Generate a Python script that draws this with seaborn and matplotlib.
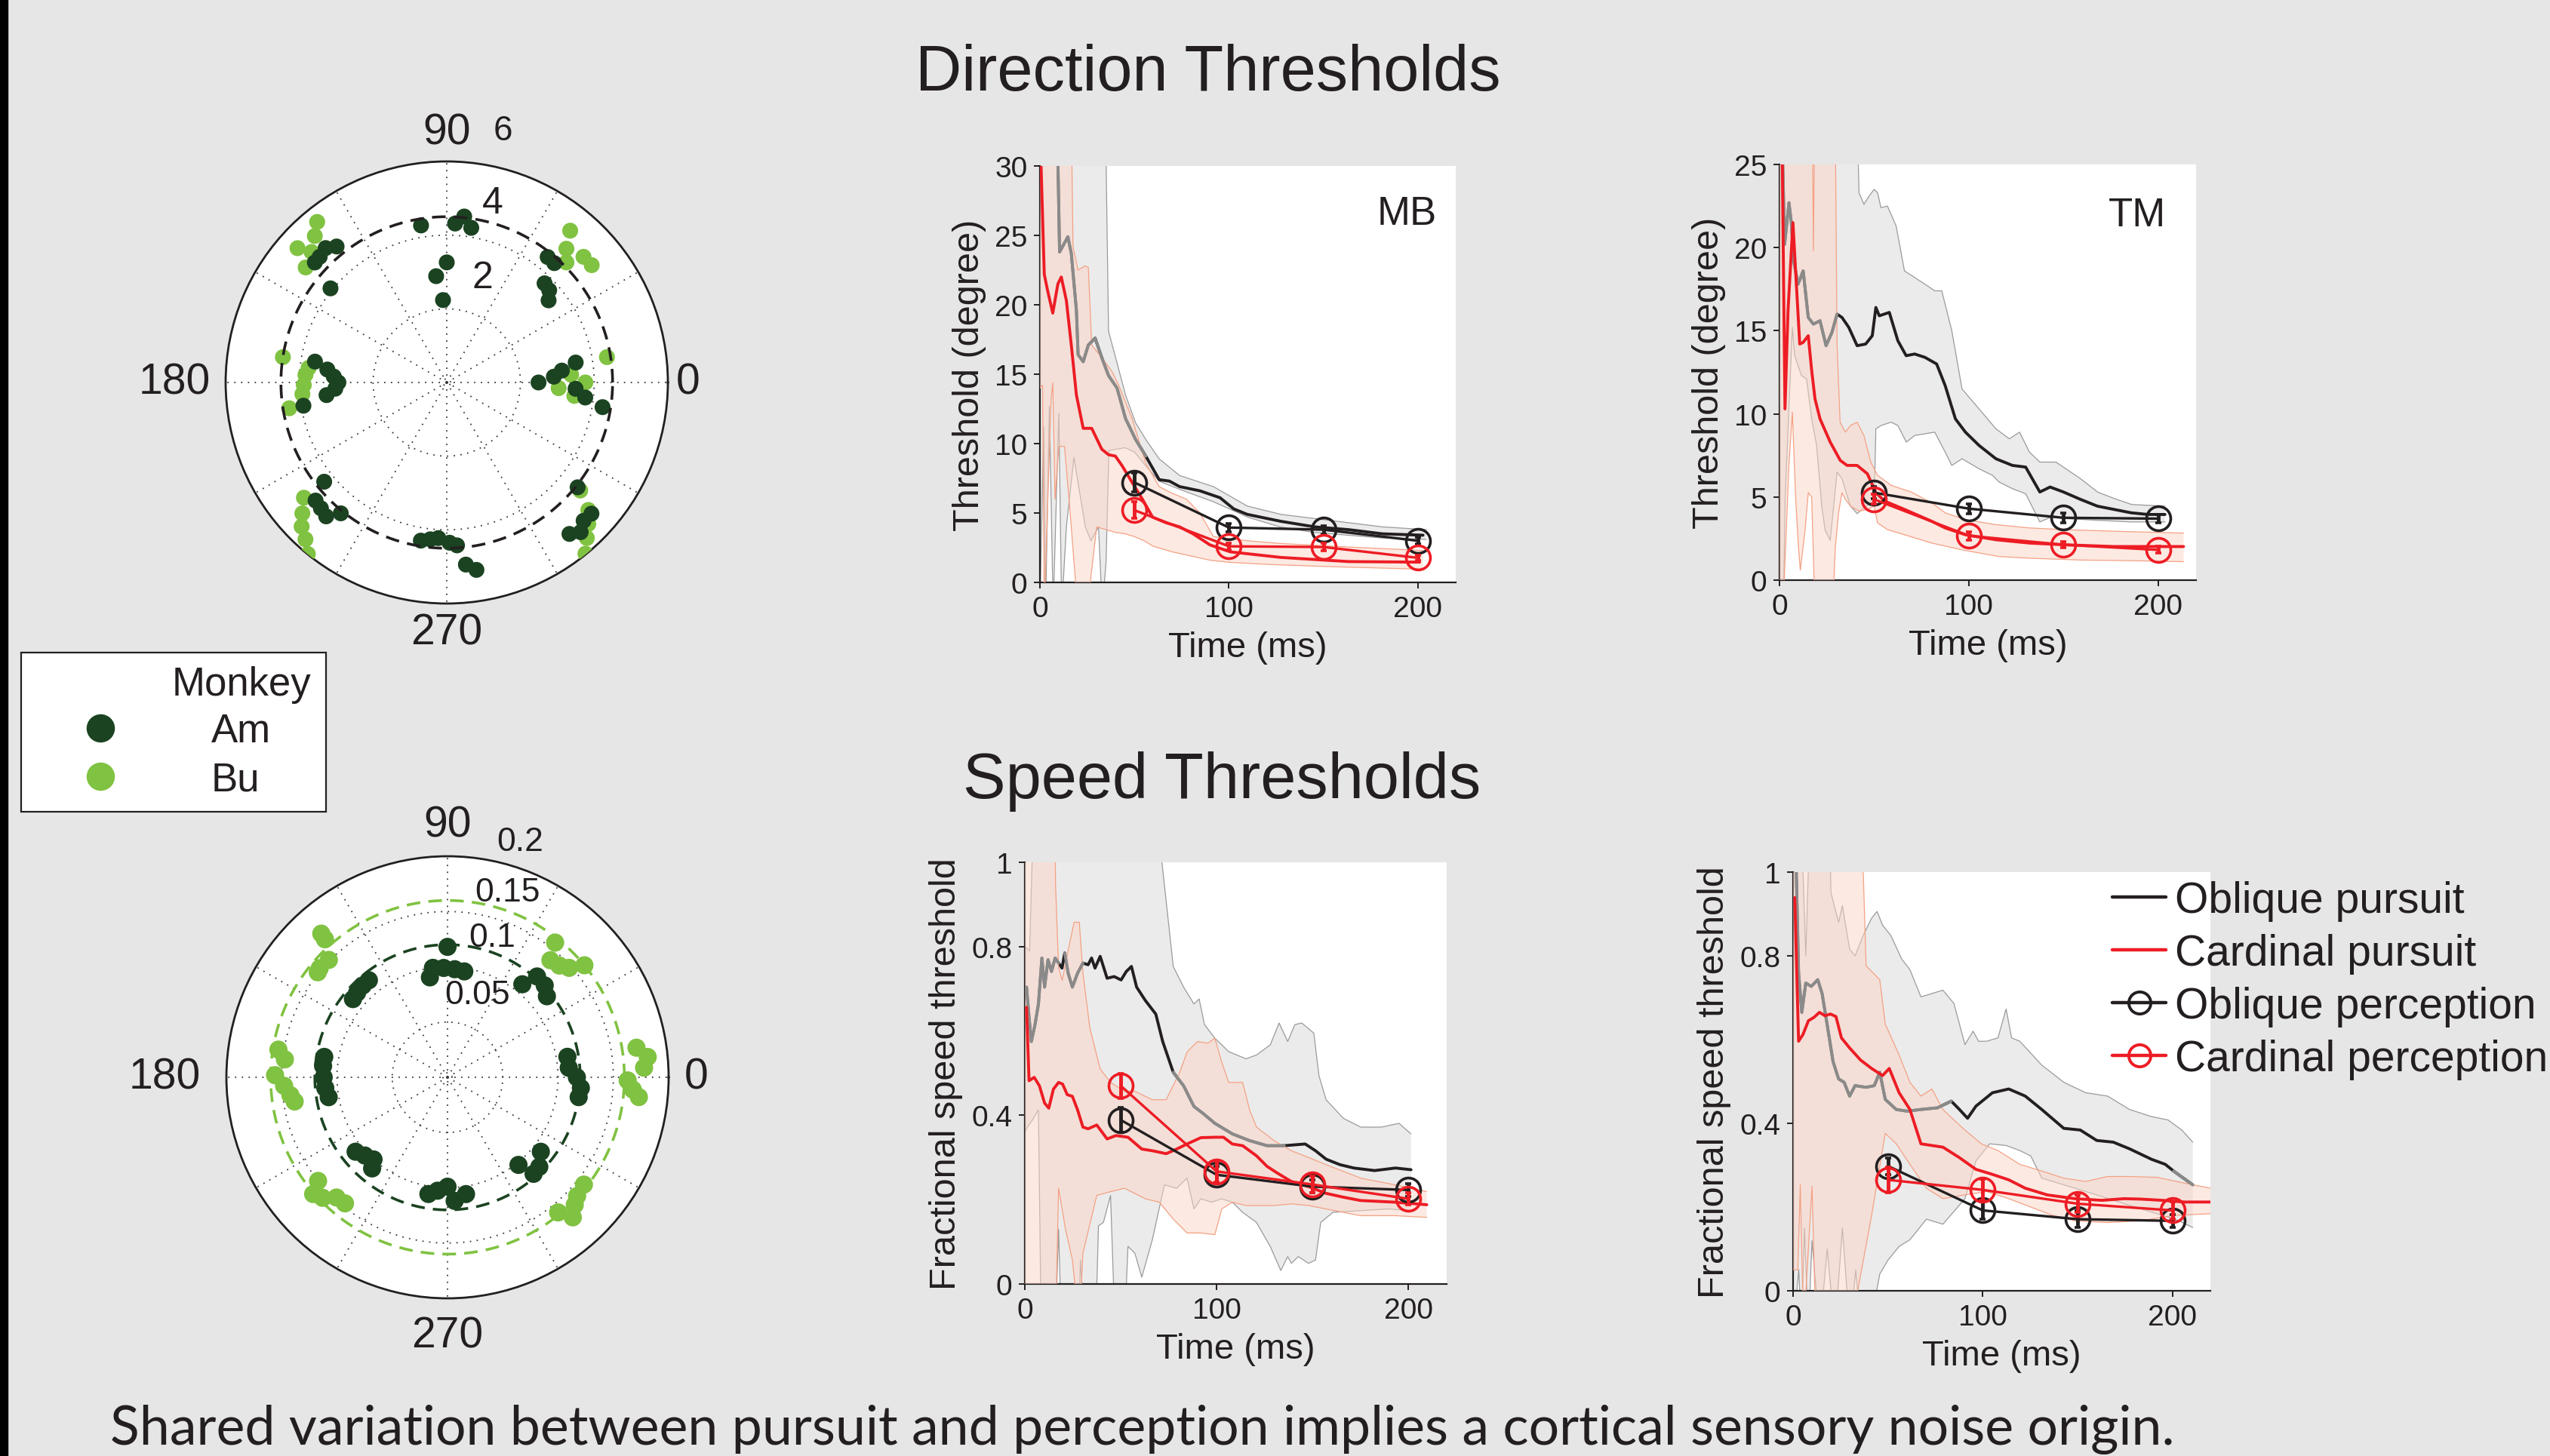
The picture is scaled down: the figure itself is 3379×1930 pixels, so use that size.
import numpy as np
import matplotlib
matplotlib.use("Agg")
import matplotlib.pyplot as plt
import seaborn as sns
from matplotlib import font_manager
from matplotlib.lines import Line2D
from matplotlib.patches import Rectangle

# ---------------- data ----------------
# polar plots: direction thresholds (deg), per monkey
am_dir_theta = [99.3, 84, 87, 81, 90, 95.7, 92.6, 129, 132, 135.3, 137.7, 141, 51.2, 48, 45.4, 42, 38.9,
                171, 173.8, 177, 180, 183.2, 186, 189.2, 0, 3.1, 5.9, 8.8, -2.8, -6.2, -9,
                219, 222, 225, 228, 231, 260.7, 264, 266.9, 271, 273.6, 276, 279,
                321.3, 317.8, 314.7, 311.8, 309]
am_dir_r = [4.32, 4.53, 4.32, 4.25, 3.26, 2.9, 2.24, 4.75, 4.91, 4.85, 4.84, 4.06, 4.37, 4.36, 3.78, 3.74, 3.55,
            3.62, 3.26, 3.07, 2.94, 3.03, 3.28, 3.94, 2.49, 2.91, 3.14, 3.54, 3.5, 3.78, 4.28,
            4.28, 4.79, 4.83, 4.89, 4.57, 4.35, 4.28, 4.23, 4.35, 4.43, 4.97, 5.15,
            4.55, 5.3, 5.28, 5.45, 5.29]
bu_dir_theta = [128.9, 132, 138, 140.8, 136, 50.9, 48.2, 45.1, 42.6, 39, 171.2, 176.9, 181, 184.6, 189.3, 174,
                9, -2.9, 0, -6, 3.6, 218.9, 222.2, 224.8, 228, 231, 321, 318, 315, 312, 309]
bu_dir_r = [5.6, 5.35, 5.45, 4.94, 5.1, 5.31, 4.87, 4.6, 5.04, 5.06, 4.5, 3.84, 3.88, 3.93, 4.33, 3.77,
            4.4, 3.04, 3.76, 3.48, 3.38, 4.98, 5.29, 5.55, 5.73, 5.99, 4.66, 5.17, 5.43, 5.68, 5.98]
dir_mean = 4.5

# polar plots: fractional speed thresholds
am_spd_theta = [90, 97.6, 100, 92, 86.2, 81, 51.2, 48.4, 43.4, 39.2, 129, 132.7, 136.9, 140.4,
                170.6, 174.8, 180, 185, 189.5, 9.7, 4.5, 0, -4.6, -8.6, 219, 223.4, 228, 230.4,
                260.7, 265, 270, 273.3, 279, 309, 311.7, 321.4, 315.7]
am_spd_r = [0.118, 0.0999, 0.0918, 0.099, 0.098, 0.097, 0.108, 0.122, 0.121, 0.116, 0.113, 0.113, 0.112, 0.111,
            0.113, 0.113, 0.112, 0.111, 0.109, 0.110, 0.110, 0.117, 0.121, 0.120, 0.107, 0.103, 0.100, 0.107,
            0.107, 0.103, 0.099, 0.112, 0.107, 0.102, 0.117, 0.108, 0.116]
bu_spd_theta = [51.4, 48.7, 45, 42, 39.3, 131.3, 131.6, 135.3, 139.5, 141, 170.7, 173.7, 179.3, 183, 186.5, 189,
                8.9, 5.8, 2.8, -1, -3.8, -5.9, 218.7, 221, 224, 227.3, 230.9, 321.8, 317.5, 314.9, 311.8, 309.3]
bu_spd_r = [0.156, 0.141, 0.143, 0.148, 0.160, 0.173, 0.167, 0.151, 0.152, 0.151, 0.155, 0.148, 0.156, 0.148, 0.143, 0.140,
            0.173, 0.182, 0.178, 0.163, 0.168, 0.174, 0.150, 0.161, 0.157, 0.148, 0.147, 0.157, 0.159, 0.163, 0.170, 0.158]
am_spd_mean = 0.12
bu_spd_mean = 0.16

perc_t = [50, 100, 150, 200]

# ---- MB direction ----
mb_obl_t = [0, 2, 5, 8, 9.5, 10.4, 14.8, 16.6, 19.3, 20.2, 22.9, 25.6, 29.2, 32.7, 36.3, 40.8, 45.3, 50.6, 56, 63.1,
            68.5, 73.9, 84.6, 95.3, 102.5, 109.7, 127.5, 145.4, 163.3, 181.2, 202.7]
mb_obl_v = [40, 38, 33, 31, 30.5, 23.8, 24.9, 23.7, 19.6, 16.4, 15.9, 17.1, 17.6, 16.2, 14.9, 14.0, 11.8, 10.3, 9.1, 7.4,
            7.3, 6.9, 6.6, 6.1, 5.3, 4.9, 4.4, 4.0, 3.8, 3.5, 3.4]
mb_car_t = [0.5, 2.3, 4.1, 6.8, 9.5, 11.3, 14, 16.6, 19.3, 21.1, 22.9, 27.4, 32.7, 36.3, 39.9, 43.5, 48.8, 54.2, 59.6,
            66.7, 73.9, 81, 90, 100.7, 127.5, 145.4, 163.3, 200.9]
mb_car_v = [30.5, 22.2, 21.0, 19.4, 21.5, 22.0, 20.3, 17.1, 13.5, 12.3, 11.1, 11.1, 9.6, 9.2, 9.1, 8.4, 7.2, 6.0, 4.7,
            4.3, 4.0, 3.5, 2.7, 2.2, 1.8, 1.65, 1.5, 1.46]
mb_obl_hi_t = [0, 34, 36.3, 45.3, 50.6, 56, 63.1, 73.9, 91.8, 109.7, 127.5, 145.4, 163.3, 181.2, 204.5]
mb_obl_hi_v = [40, 40, 18.1, 13.5, 11.5, 10.3, 8.9, 7.7, 6.9, 5.5, 4.9, 4.6, 4.3, 4.0, 3.8]
mb_obl_lo_t = [0, 2, 3, 5, 7, 10, 11.5, 14, 18, 24, 27, 31, 33, 35, 36.5, 45, 50, 56, 63, 74, 92, 110, 127, 145, 163,
               181, 204.5]
mb_obl_lo_v = [-2, 11.2, -2, 12.7, -2, 12.2, -2, 4, 9, 4, 3, 4, -2, 1.5, 9.5, 9.7, 9.4, 8.4, 7.3, 6.7, 5.8, 4.7, 4.0,
               3.6, 3.4, 3.2, 3.1]
mb_car_hi_t = [0, 16, 17.5, 20.2, 23.8, 25.6, 27.4, 32.7, 38.1, 41.7, 48.8, 56, 63.1, 70.3, 77.5, 84.6, 91.8, 109.7,
               127.5, 163.3, 202.7]
mb_car_hi_v = [40, 40, 24.2, 22.5, 22.8, 22.7, 17.1, 16.2, 15.2, 14.2, 11.8, 8.6, 6.9, 6.4, 6.0, 5.0, 3.3, 3.0, 2.8,
               2.55, 2.3]
mb_car_lo_t = [0, 1.4, 2.3, 5.9, 6.8, 8, 10, 13, 16, 20, 25, 30, 35, 40, 45, 50, 55, 60, 70, 80, 90, 100, 120, 150,
               202.7]
mb_car_lo_v = [14, 14.2, -2, 13.1, 14.4, 6, 9.8, 9.8, 5, -2, -2, 4, 3.8, 3.6, 3.5, 3.3, 3.0, 2.6, 2.2, 1.9, 1.6, 1.45,
               1.3, 1.15, 0.95]
mb_obl_perc = [7.2, 3.95, 3.8, 3.0]
mb_obl_err = [0.7, 0.3, 0.3, 0.25]
mb_car_perc = [5.2, 2.6, 2.55, 1.77]
mb_car_err = [0.6, 0.25, 0.25, 0.2]

# ---- TM direction ----
tm_obl_t = [0, 1.5, 2.7, 5, 6.25, 7.5, 9.8, 12.5, 15.2, 17.9, 21.4, 24.6, 27.7, 30.4, 33, 36.6, 41, 45.5, 49, 50.9,
            52.7, 58, 62.5, 66.9, 71.4, 76.8, 83, 87.5, 92.9, 98.2, 105.4, 114.3, 123, 130, 137.5, 142.9, 150, 158.9,
            167.9, 176.8, 185.7, 194.6, 203.6]
tm_obl_v = [40, 26, 20.2, 22.7, 21.5, 19.2, 17.8, 18.6, 15.8, 15.4, 15.6, 14.1, 14.9, 16.0, 15.8, 15.2, 14.1, 14.2,
            14.7, 16.4, 15.9, 16.1, 14.4, 13.5, 13.6, 13.4, 13.0, 11.7, 9.7, 8.9, 8.1, 7.3, 6.9, 6.8, 5.3, 5.6, 5.3,
            4.86, 4.45, 4.25, 4.05, 3.95, 3.95]
tm_car_t = [0, 1.4, 2.9, 4.5, 7.1, 8.9, 10.7, 12.5, 15.2, 17, 18.75, 21.4, 26.8, 32.1, 35.7, 41, 46.4, 50.9, 55.4, 66.1,
            80.4, 87.5, 98.2, 114.3, 132, 150, 176.8, 213.4]
tm_car_v = [30, 26, 10.3, 16.2, 21.5, 17.8, 14.2, 14.3, 14.7, 12.6, 10.9, 9.7, 8.3, 7.2, 6.9, 6.9, 6.4, 5.26, 4.76,
            4.25, 3.54, 3.14, 2.73, 2.43, 2.23, 2.13, 2.02, 2.02]
tm_obl_hi_t = [0, 38.4, 42, 44.6, 47.3, 50, 51.8, 53.6, 57, 61.6, 66, 71.4, 76.8, 82, 85.7, 91, 96.4, 105.4, 114.3,
               121.4, 126.8, 132, 137.5, 146, 159, 168, 177, 186, 194.6, 203.6]
tm_obl_hi_v = [40, 40, 23.3, 22.6, 23.1, 23.5, 23.3, 22.4, 22.5, 21.3, 18.6, 18.2, 17.8, 17.4, 17.4, 15.0, 11.5, 10.3,
               9.1, 8.5, 8.9, 7.7, 7.1, 7.1, 6.1, 5.3, 4.9, 4.55, 4.5, 4.45]
tm_obl_lo_t = [0, 2, 3, 6.8, 8, 11.6, 14.3, 17, 19.6, 22.3, 24.1, 26.8, 30.4, 33, 35.7, 37.5, 41, 44.6, 48.2, 50, 50.9,
               53.6, 59, 62.5, 67, 71.4, 76.8, 82, 87.5, 91, 96.4, 105.4, 112.5, 116, 123, 130, 137.5, 144.6, 151.8,
               168, 185.7, 203.6]
tm_obl_lo_v = [-2, -2, 5, 15.2, 13.5, 12.3, 12.1, 9.7, 8.1, 4.45, 3.0, 2.4, 6.5, 6.1, 5.1, 4.45, 4.0, 4.35, 4.65,
               4.86, 9.1, 9.3, 9.5, 9.3, 8.3, 8.7, 8.8, 8.9, 7.7, 6.9, 7.3, 6.7, 6.3, 5.9, 5.5, 5.2, 3.5, 3.85, 3.7,
               3.6, 3.5, 3.5]
tm_car_hi_t = [0, 16.5, 17.9, 19.6, 28.6, 30.4, 32, 34.8, 37.5, 41, 44.6, 48.2, 51.8, 59, 69.6, 80.4, 87.5, 98.2,
               114.3, 132, 150, 176.8, 213.4]
tm_car_hi_v = [40, 40, 19.8, 40, 40, 14.2, 9.5, 8.9, 9.3, 9.5, 8.7, 7.1, 6.3, 5.7, 5.3, 4.65, 4.05, 3.64, 3.34, 3.14,
               3.04, 2.94, 2.83]
tm_car_lo_t = [0, 1.8, 3.6, 5, 6.8, 8.5, 10, 11, 13.5, 15.2, 17, 18.8, 28, 29.5, 31.2, 33, 34.8, 37.5, 42, 46.4, 50,
               51.8, 57, 66, 80.4, 96.4, 116, 132, 159, 185.7, 213.4]
tm_car_lo_v = [-2, -2, 3, 7, 10.1, 5, 2, 0.6, 3, 5.26, 5.0, -2, -2, 2, 4.05, 5.26, 4.86, 4.45, 4.15, 4.25, 4.45, 3.44,
               3.04, 2.73, 2.23, 1.82, 1.42, 1.32, 1.21, 1.17, 1.11]
tm_obl_perc = [5.26, 4.3, 3.75, 3.7]
tm_obl_err = [0.35, 0.3, 0.3, 0.25]
tm_car_perc = [4.86, 2.67, 2.13, 1.82]
tm_car_err = [0.3, 0.25, 0.2, 0.2]

# ---- speed, left monkey ----
sl_obl_t = [0.9, 2.2, 3.4, 5.3, 7.1, 8.9, 10.3, 12.1, 13.9, 15.8, 17.6, 19.4, 20.8, 22.6, 24.8, 27.5, 30.3, 33, 34.8,
            36.6, 39.3, 42.9, 46.6, 50.2, 52.9, 55.6, 58.3, 62.9, 68.3, 71.9, 77.4, 82.8, 88.2, 92.8, 99.1, 108.2,
            117.2, 126.3, 135.3, 146.2, 151.6, 157.1, 164.3, 171.6, 182.4, 193.3, 201.4]
sl_obl_v = [0.704, 0.632, 0.575, 0.615, 0.664, 0.773, 0.704, 0.769, 0.741, 0.773, 0.761, 0.749, 0.785, 0.737, 0.704,
            0.737, 0.761, 0.757, 0.773, 0.749, 0.777, 0.725, 0.729, 0.721, 0.741, 0.753, 0.704, 0.672, 0.640, 0.575,
            0.502, 0.470, 0.421, 0.405, 0.381, 0.356, 0.340, 0.328, 0.328, 0.332, 0.316, 0.296, 0.283, 0.275, 0.269,
            0.275, 0.271]
sl_car_t = [0.9, 2.2, 4.9, 7.6, 10.3, 12.5, 14.9, 17.6, 19.7, 22.1, 24.8, 27.5, 30.3, 33, 37.5, 42.9, 47.5, 53.8, 61,
            66.5, 73.7, 79.2, 84.6, 91.8, 99.1, 103.6, 108.2, 113.6, 120.8, 126.3, 131.7, 139, 148, 157, 166, 175,
            184, 193, 209.6]
sl_car_v = [0.656, 0.482, 0.49, 0.47, 0.429, 0.417, 0.462, 0.478, 0.474, 0.449, 0.445, 0.413, 0.372, 0.368, 0.377,
            0.344, 0.352, 0.348, 0.32, 0.316, 0.309, 0.32, 0.332, 0.347, 0.348, 0.348, 0.332, 0.328, 0.304, 0.279,
            0.263, 0.243, 0.231, 0.215, 0.206, 0.198, 0.196, 0.194, 0.188]
sl_obl_hi_t = [0, 2.5, 5, 7, 70, 71.5, 77.4, 82.8, 88.2, 90.9, 93.7, 99.1, 106.3, 115.4, 120.8, 128, 132.6, 137.1,
               140.8, 144.4, 150.7, 153.4, 157.1, 166.1, 175.2, 186, 195.1, 201.4]
sl_obl_hi_v = [0.8, 0.79, 1.2, 1.3, 1.3, 1.0, 0.753, 0.704, 0.664, 0.676, 0.615, 0.583, 0.551, 0.534, 0.543, 0.567,
               0.619, 0.575, 0.615, 0.619, 0.595, 0.494, 0.437, 0.393, 0.372, 0.372, 0.381, 0.356]
sl_obl_lo_t = [0, 1.3, 4, 7.1, 8.5, 16, 17.6, 19, 28, 29, 31, 37, 38.4, 41, 44.7, 47, 52, 53.8, 57.4, 61, 66.5, 72.8,
               79.2, 84.6, 88.2, 91.8, 97.3, 102.7, 108.2, 113.6, 120.8, 128, 133.5, 137.1, 139, 142.6, 148, 151.6,
               154.3, 160.7, 175.2, 189.7, 201.4]
sl_obl_lo_v = [0.36, 0.372, 0.389, 0.413, -0.1, -0.1, 0.13, -0.1, -0.1, 0.057, -0.1, -0.1, 0.138, 0.146, 0.21, -0.1,
               -0.1, 0.089, 0.073, 0.016, 0.105, 0.235, 0.227, 0.251, 0.178, 0.202, 0.194, 0.202, 0.194, 0.17, 0.146,
               0.089, 0.032, 0.065, 0.049, 0.065, 0.049, 0.057, 0.146, 0.17, 0.174, 0.178, 0.174]
sl_car_hi_t = [0, 15.5, 16, 17.6, 19.5, 23, 25.7, 28.4, 30.3, 33.9, 39.3, 44.7, 51.9, 57.4, 66.5, 73.7, 80.8, 84.6, 90,
               95.5, 99.1, 102.7, 106.3, 113.6, 117.2, 120.8, 130, 139, 148, 157.1, 175.2, 193.3, 209.6]
sl_car_hi_v = [1.3, 1.3, 0.95, 0.75, 0.72, 0.8, 0.858, 0.858, 0.737, 0.607, 0.51, 0.478, 0.457, 0.457, 0.437, 0.437,
               0.502, 0.55, 0.575, 0.571, 0.583, 0.526, 0.478, 0.478, 0.413, 0.372, 0.34, 0.316, 0.3, 0.283, 0.251,
               0.235, 0.219]
sl_car_lo_t = [0, 16, 17.6, 21.2, 24.8, 28.4, 30.3, 37.5, 44.7, 52, 62.9, 70.1, 77.4, 84.6, 91.8, 99.1, 102.7, 108.2,
               115.4, 130, 139, 148, 157, 166, 175, 193, 209.6]
sl_car_lo_v = [-0.1, -0.1, 0.227, 0.13, 0.057, -0.1, 0.073, 0.21, 0.219, 0.227, 0.202, 0.194, 0.154, 0.121, 0.121,
               0.117, 0.178, 0.194, 0.186, 0.186, 0.19, 0.186, 0.178, 0.17, 0.162, 0.162, 0.158]
sl_obl_perc = [0.389, 0.259, 0.231, 0.223]
sl_obl_err = [0.03, 0.02, 0.015, 0.015]
sl_car_perc = [0.47, 0.267, 0.236, 0.202]
sl_car_err = [0.03, 0.025, 0.02, 0.015]

# ---- speed, right monkey ----
sr_obl_t = [0, 1.7, 2.9, 4.6, 6.7, 9.6, 13, 15.3, 18.2, 21.1, 24, 26.9, 29.8, 32.7, 38.5, 42.8, 45.7, 48.6, 54.4,
            60.2, 67.4, 76.1, 83.4, 87.7, 92, 96.4, 105.1, 113.7, 122.4, 131.1, 142.7, 151.4, 160.1, 168.8, 177.4,
            189, 196.2, 200.6, 210.7]
sr_obl_v = [1.2, 1.0, 0.76, 0.665, 0.735, 0.727, 0.743, 0.71, 0.629, 0.547, 0.506, 0.498, 0.465, 0.49, 0.486, 0.49,
            0.522, 0.457, 0.433, 0.429, 0.433, 0.437, 0.453, 0.433, 0.412, 0.441, 0.473, 0.482, 0.465, 0.433, 0.388,
            0.384, 0.359, 0.355, 0.339, 0.314, 0.302, 0.286, 0.253]
sr_car_t = [0.9, 2.9, 5.2, 8.1, 11, 13.9, 16.8, 19.7, 22.6, 25.5, 29.8, 35.6, 41.4, 47.2, 50.7, 55.9, 61.6, 67.4,
            73.2, 79, 87.7, 96.4, 105.1, 113.7, 122.4, 134, 148.5, 162.9, 174.5, 183.2, 194.8, 206.4, 220]
sr_car_v = [0.939, 0.596, 0.612, 0.645, 0.653, 0.665, 0.657, 0.661, 0.655, 0.604, 0.58, 0.551, 0.531, 0.514, 0.531,
            0.473, 0.433, 0.351, 0.347, 0.343, 0.318, 0.29, 0.278, 0.265, 0.245, 0.229, 0.22, 0.216, 0.22, 0.219,
            0.216, 0.212, 0.212]
sr_obl_hi_t = [0, 3, 6.7, 10, 18, 20, 24, 26, 29.8, 32.7, 37, 41.4, 44.3, 47.2, 51.5, 57.3, 61.6, 67.4, 73.2, 79,
               84.8, 90.6, 94.9, 97.8, 102, 108, 112.3, 115.2, 119.5, 131.1, 142.7, 154.3, 165.8, 177.4, 189, 197.7,
               204.9, 210.7]
sr_obl_hi_v = [1.3, 1.3, 0.8, 1.3, 1.3, 0.95, 0.88, 0.92, 0.816, 0.8, 0.849, 0.89, 0.906, 0.873, 0.849, 0.792, 0.767,
               0.702, 0.71, 0.718, 0.686, 0.588, 0.62, 0.596, 0.596, 0.604, 0.673, 0.604, 0.596, 0.539, 0.498, 0.473,
               0.465, 0.433, 0.416, 0.408, 0.384, 0.355]
sr_obl_lo_t = [0, 3, 4.5, 6, 8, 10, 14, 18, 22, 26, 30, 33, 36, 40, 45.7, 50, 55.9, 61.6, 70.3, 79, 90.6, 96.4, 103.6,
               112.3, 119.5, 125.3, 131.1, 142.7, 148.5, 160, 171.6, 183.2, 194.8, 203.5, 210.7]
sr_obl_lo_v = [-0.1, 0.05, -0.1, 0.15, -0.1, 0.12, -0.1, 0.1, -0.1, 0.15, -0.1, 0.05, -0.1, -0.1, 0.04, 0.073, 0.106,
               0.122, 0.171, 0.159, 0.22, 0.31, 0.351, 0.347, 0.335, 0.322, 0.269, 0.253, 0.245, 0.229, 0.212, 0.196,
               0.18, 0.167, 0.151]
sr_car_hi_t = [0, 35, 37, 38.5, 45.7, 48.6, 55.9, 61.6, 67.4, 73.2, 79, 84.8, 90.6, 99.3, 108, 119.5, 131.1, 142.7,
               154.3, 165.8, 177.4, 191.9, 206.4, 220]
sr_car_hi_v = [1.3, 1.3, 1.0, 0.776, 0.743, 0.637, 0.563, 0.498, 0.465, 0.482, 0.433, 0.408, 0.384, 0.351, 0.335,
               0.302, 0.286, 0.269, 0.261, 0.273, 0.273, 0.271, 0.257, 0.245]
sr_car_lo_t = [0, 2.5, 3.8, 5.5, 10, 12, 30, 41.4, 48.6, 54.4, 61.6, 70.3, 79, 90.6, 102.2, 113.7, 125.3, 136.9, 148.5,
               165.8, 183.2, 200.6, 220]
sr_car_lo_v = [0.05, 0.05, 0.253, -0.1, 0.25, -0.1, -0.1, 0.18, 0.376, 0.351, 0.302, 0.245, 0.22, 0.229, 0.237, 0.22,
               0.2, 0.18, 0.167, 0.163, 0.167, 0.18, 0.184]
sr_obl_perc = [0.298, 0.192, 0.171, 0.167]
sr_obl_err = [0.02, 0.02, 0.02, 0.015]
sr_car_perc = [0.265, 0.241, 0.208, 0.192]
sr_car_err = [0.03, 0.025, 0.02, 0.02]

legend_labels = ["Oblique pursuit", "Cardinal pursuit", "Oblique perception", "Cardinal perception"]
monkey_labels = ["Am", "Bu"]

# ---------------- style ----------------
W, H = 3379, 1931
BG = "#e6e6e6"
BLACK = "#231f20"
RED = "#ed1c24"
COVERED = "#8a8a8a"
AM = "#1b4321"
BU = "#80c241"

installed = {f.name for f in font_manager.fontManager.ttflist}


def pick(*names):
    return [n for n in names if n in installed] + ["DejaVu Sans"]


SANS = pick("Liberation Sans", "Arimo")
NARROW = pick("Liberation Sans Narrow", "Liberation Sans")
MYRIAD = pick("Lato", "Open Sans")

sns.set_theme(style="ticks")
plt.rcParams["font.family"] = SANS
plt.rcParams["text.color"] = BLACK
plt.rcParams["axes.labelcolor"] = BLACK
plt.rcParams["xtick.color"] = BLACK
plt.rcParams["ytick.color"] = BLACK

fig = plt.figure(figsize=(W / 100, H / 100), dpi=100)
fig.patch.set_facecolor(BG)
fig.add_artist(Rectangle((0, 0), 10 / W, 1, transform=fig.transFigure, color="black", zorder=10))


def px_rect(left, top, right, bottom):
    return [left / W, 1 - bottom / H, (right - left) / W, (bottom - top) / H]


# ---------------- polar panels ----------------
def polar_panel(rect, rmax, rings, tiny, am_th, am_r, bu_th, bu_r, means, mean_colors,
                rlabels, rlab_pos, rlab_sizes, dot_size, lab_off):
    ax = fig.add_axes(rect, projection="polar")
    ax.set_facecolor("white")
    sns.scatterplot(x=np.deg2rad(bu_th), y=bu_r, ax=ax, s=dot_size, color=BU, edgecolor="none",
                    linewidth=0, legend=False, zorder=3)
    sns.scatterplot(x=np.deg2rad(am_th), y=am_r, ax=ax, s=dot_size, color=AM, edgecolor="none",
                    linewidth=0, legend=False, zorder=4)
    circ = np.linspace(0, 2 * np.pi, 361)
    for m, c in zip(means, mean_colors):
        ax.plot(circ, np.full_like(circ, m), color=c, lw=2.6, ls=(0, (5, 3)), zorder=5)
    ax.set_ylim(0, rmax)
    ax.set_thetagrids(range(0, 360, 30), labels=[])
    ax.set_rgrids([tiny] + list(rings), labels=[])
    ax.grid(True, color="#3a3a3a", linestyle=(0, (1, 4)), linewidth=1.3)
    ax.spines["polar"].set_color(BLACK)
    ax.spines["polar"].set_linewidth(2)
    ax.tick_params(length=0, pad=0)
    for lab, (th, rr), fs in zip(rlabels, rlab_pos, rlab_sizes):
        ax.text(np.deg2rad(th), rr, lab, ha="center", va="center", fontsize=fs, family=SANS,
                clip_on=False, zorder=6)
    offs = {"0": (0.5 + lab_off[0], 0.5), "90": (0.5, 0.5 + lab_off[1]),
            "180": (0.5 - lab_off[2], 0.5), "270": (0.5, 0.5 - lab_off[3])}
    for lab, (x, y) in offs.items():
        ax.text(x, y, lab, transform=ax.transAxes, ha="center", va="center", fontsize=41,
                family=NARROW, clip_on=False)
    return ax


polar_panel(px_rect(299, 215, 885, 801), 6, [2, 4], 0.1,
            am_dir_theta, am_dir_r, bu_dir_theta, bu_dir_r, [dir_mean], [BLACK],
            ["2", "4", "6"], [(71, 3.0), (75.6, 5.04), (77.5, 7.0)], [36, 36, 33], 230,
            (0.546, 0.565, 0.615, 0.565))
polar_panel(px_rect(300, 1136, 886, 1722), 0.2, [0.05, 0.1, 0.15], 0.004,
            am_spd_theta, am_spd_r, bu_spd_theta, bu_spd_r, [am_spd_mean, bu_spd_mean], [AM, BU],
            ["0.05", "0.1", "0.15", "0.2"], [(70.3, 0.0795), (72.3, 0.133), (72, 0.176), (72.8, 0.223)],
            [32, 32, 32, 32], 300, (0.563, 0.57, 0.64, 0.585))

# monkey legend: white framed box, title above, dots on the left
fig.add_artist(Rectangle((28 / W, 1 - 1077 / H), 404 / W, 211 / H, transform=fig.transFigure,
                         facecolor="white", edgecolor=BLACK, lw=1.6, zorder=1))
fig.text(320 / W, 1 - 908 / H, "Monkey", ha="center", va="center", fontsize=38, zorder=3)
monkey_handles = [Line2D([], [], ls="none", marker="o", ms=27, color=c, mec="none") for c in (AM, BU)]
fig.legend(monkey_handles, monkey_labels, loc="upper left", bbox_to_anchor=(49 / W, 1 - 945 / H),
           fontsize=38, frameon=False, handlelength=3.18, handletextpad=1.19, labelspacing=0.27,
           borderpad=0, borderaxespad=0)


# ---------------- time-course panels ----------------
def covered(t, v, hi_t, hi_v, lo_t, lo_v):
    hi = np.interp(t, hi_t, hi_v)
    lo = np.interp(t, lo_t, lo_v)
    m = (np.asarray(v) < hi) & (np.asarray(v) > lo)
    return m | np.r_[m[1:], False] | np.r_[False, m[:-1]]


def band(ax, hi_t, hi_v, lo_t, lo_v, face, edge, alpha, z):
    ax.fill(np.r_[hi_t, lo_t[::-1]], np.r_[hi_v, lo_v[::-1]], facecolor=face, edgecolor="none",
            alpha=alpha, zorder=z)
    ax.plot(hi_t, hi_v, color=edge, lw=0.9, zorder=z + 0.1)
    ax.plot(lo_t, lo_v, color=edge, lw=0.9, zorder=z + 0.1)


def time_panel(rect, ylim, yticks, yticklabels, ylabel, d, tag=None, tag_pos=None):
    ax = fig.add_axes(rect)
    ax.set_facecolor("white")
    band(ax, d["ohi_t"], d["ohi_v"], d["olo_t"], d["olo_v"], "#ebebeb", "#9a9a9a", 1.0, 1)
    sns.lineplot(x=d["o_t"], y=d["o_v"], ax=ax, color=BLACK, lw=2.8, estimator=None, sort=False, zorder=2)
    band(ax, d["chi_t"], d["chi_v"], d["clo_t"], d["clo_v"], "#fbd5c6", "#f4a184", 0.5, 3)
    mask = covered(d["o_t"], d["o_v"], d["chi_t"], d["chi_v"], d["clo_t"], d["clo_v"])
    ax.plot(d["o_t"], np.where(mask, d["o_v"], np.nan), color=COVERED, lw=2.8, zorder=3.5)
    sns.lineplot(x=d["c_t"], y=d["c_v"], ax=ax, color=RED, lw=2.8, estimator=None, sort=False, zorder=4)
    for vals, errs, col, z in ((d["op"], d["oe"], BLACK, 5), (d["cp"], d["ce"], RED, 6)):
        ax.errorbar(perc_t, vals, yerr=errs, fmt="-o", color=col, ms=23, mfc="none", mew=2.6, lw=2.4,
                    elinewidth=3.5, capsize=3, capthick=3, zorder=z)
    ax.set_xlim(0, 220)
    ax.set_ylim(*ylim)
    ax.set_xticks([0, 100, 200])
    ax.set_yticks(yticks)
    ax.set_yticklabels(yticklabels)
    sns.despine(ax=ax)
    for s in ("left", "bottom"):
        ax.spines[s].set_linewidth(1.6)
        ax.spines[s].set_color(BLACK)
    ax.tick_params(labelsize=28, length=6, width=1.4, pad=6)
    ax.set_xlabel("Time (ms)", fontsize=34, labelpad=8)
    ax.set_ylabel(ylabel, fontsize=35, labelpad=8)
    if tag:
        ax.text(tag_pos[0], tag_pos[1], tag, transform=ax.transAxes, ha="center", va="center", fontsize=38)
    return ax


def pack(p):
    g = globals()
    keys = dict(o_t="obl_t", o_v="obl_v", c_t="car_t", c_v="car_v", ohi_t="obl_hi_t", ohi_v="obl_hi_v",
                olo_t="obl_lo_t", olo_v="obl_lo_v", chi_t="car_hi_t", chi_v="car_hi_v", clo_t="car_lo_t",
                clo_v="car_lo_v", op="obl_perc", oe="obl_err", cp="car_perc", ce="car_err")
    return {k: np.asarray(g[p + "_" + v], dtype=float) for k, v in keys.items()}


time_panel(px_rect(1378, 221, 1929, 773), (0, 30), [0, 5, 10, 15, 20, 25, 30],
           ["0", "5", "10", "15", "20", "25", "30"], "Threshold (degree)", pack("mb"), "MB", (0.882, 0.886))
time_panel(px_rect(2358, 219, 2910, 770), (0, 25), [0, 5, 10, 15, 20, 25],
           ["0", "5", "10", "15", "20", "25"], "Threshold (degree)", pack("tm"), "TM", (0.858, 0.878))
time_panel(px_rect(1358, 1144, 1917, 1703), (0, 1), [0, 0.4, 0.8, 1], ["0", "0.4", "0.8", "1"],
           "Fractional speed threshold", pack("sl"))
ax_sr = time_panel(px_rect(2376, 1157, 2929, 1712), (0, 1), [0, 0.4, 0.8, 1], ["0", "0.4", "0.8", "1"],
                   "Fractional speed threshold", pack("sr"))

handles = [Line2D([], [], color=BLACK, lw=3.2), Line2D([], [], color=RED, lw=3.2),
           Line2D([], [], color=BLACK, lw=3.2, marker="o", ms=21, mfc="none", mew=2.8),
           Line2D([], [], color=RED, lw=3.2, marker="o", ms=21, mfc="none", mew=2.8)]
ax_sr.legend(handles, legend_labels, loc="upper left", bbox_to_anchor=(2799 / W, 1 - 1168 / H),
             bbox_transform=fig.transFigure, frameon=False, fontsize=41, handlelength=1.25,
             handletextpad=0.2, labelspacing=0.28, borderpad=0, borderaxespad=0)

# ---------------- titles ----------------
fig.text(1601 / W, 1 - 120 / H, "Direction Thresholds", ha="center", va="baseline", fontsize=61)
fig.text(1619 / W, 1 - 1058 / H, "Speed Thresholds", ha="center", va="baseline", fontsize=61)
cap = fig.text(146 / W, 1 - 1915 / H,
               "Shared variation between pursuit and perception implies a cortical sensory noise origin.",
               ha="left", va="baseline", fontsize=56, family=MYRIAD)
fig.canvas.draw()
cap.set_fontsize(56 * 2733 / cap.get_window_extent().width)

fig.savefig("out.png", dpi=100, facecolor=BG)
